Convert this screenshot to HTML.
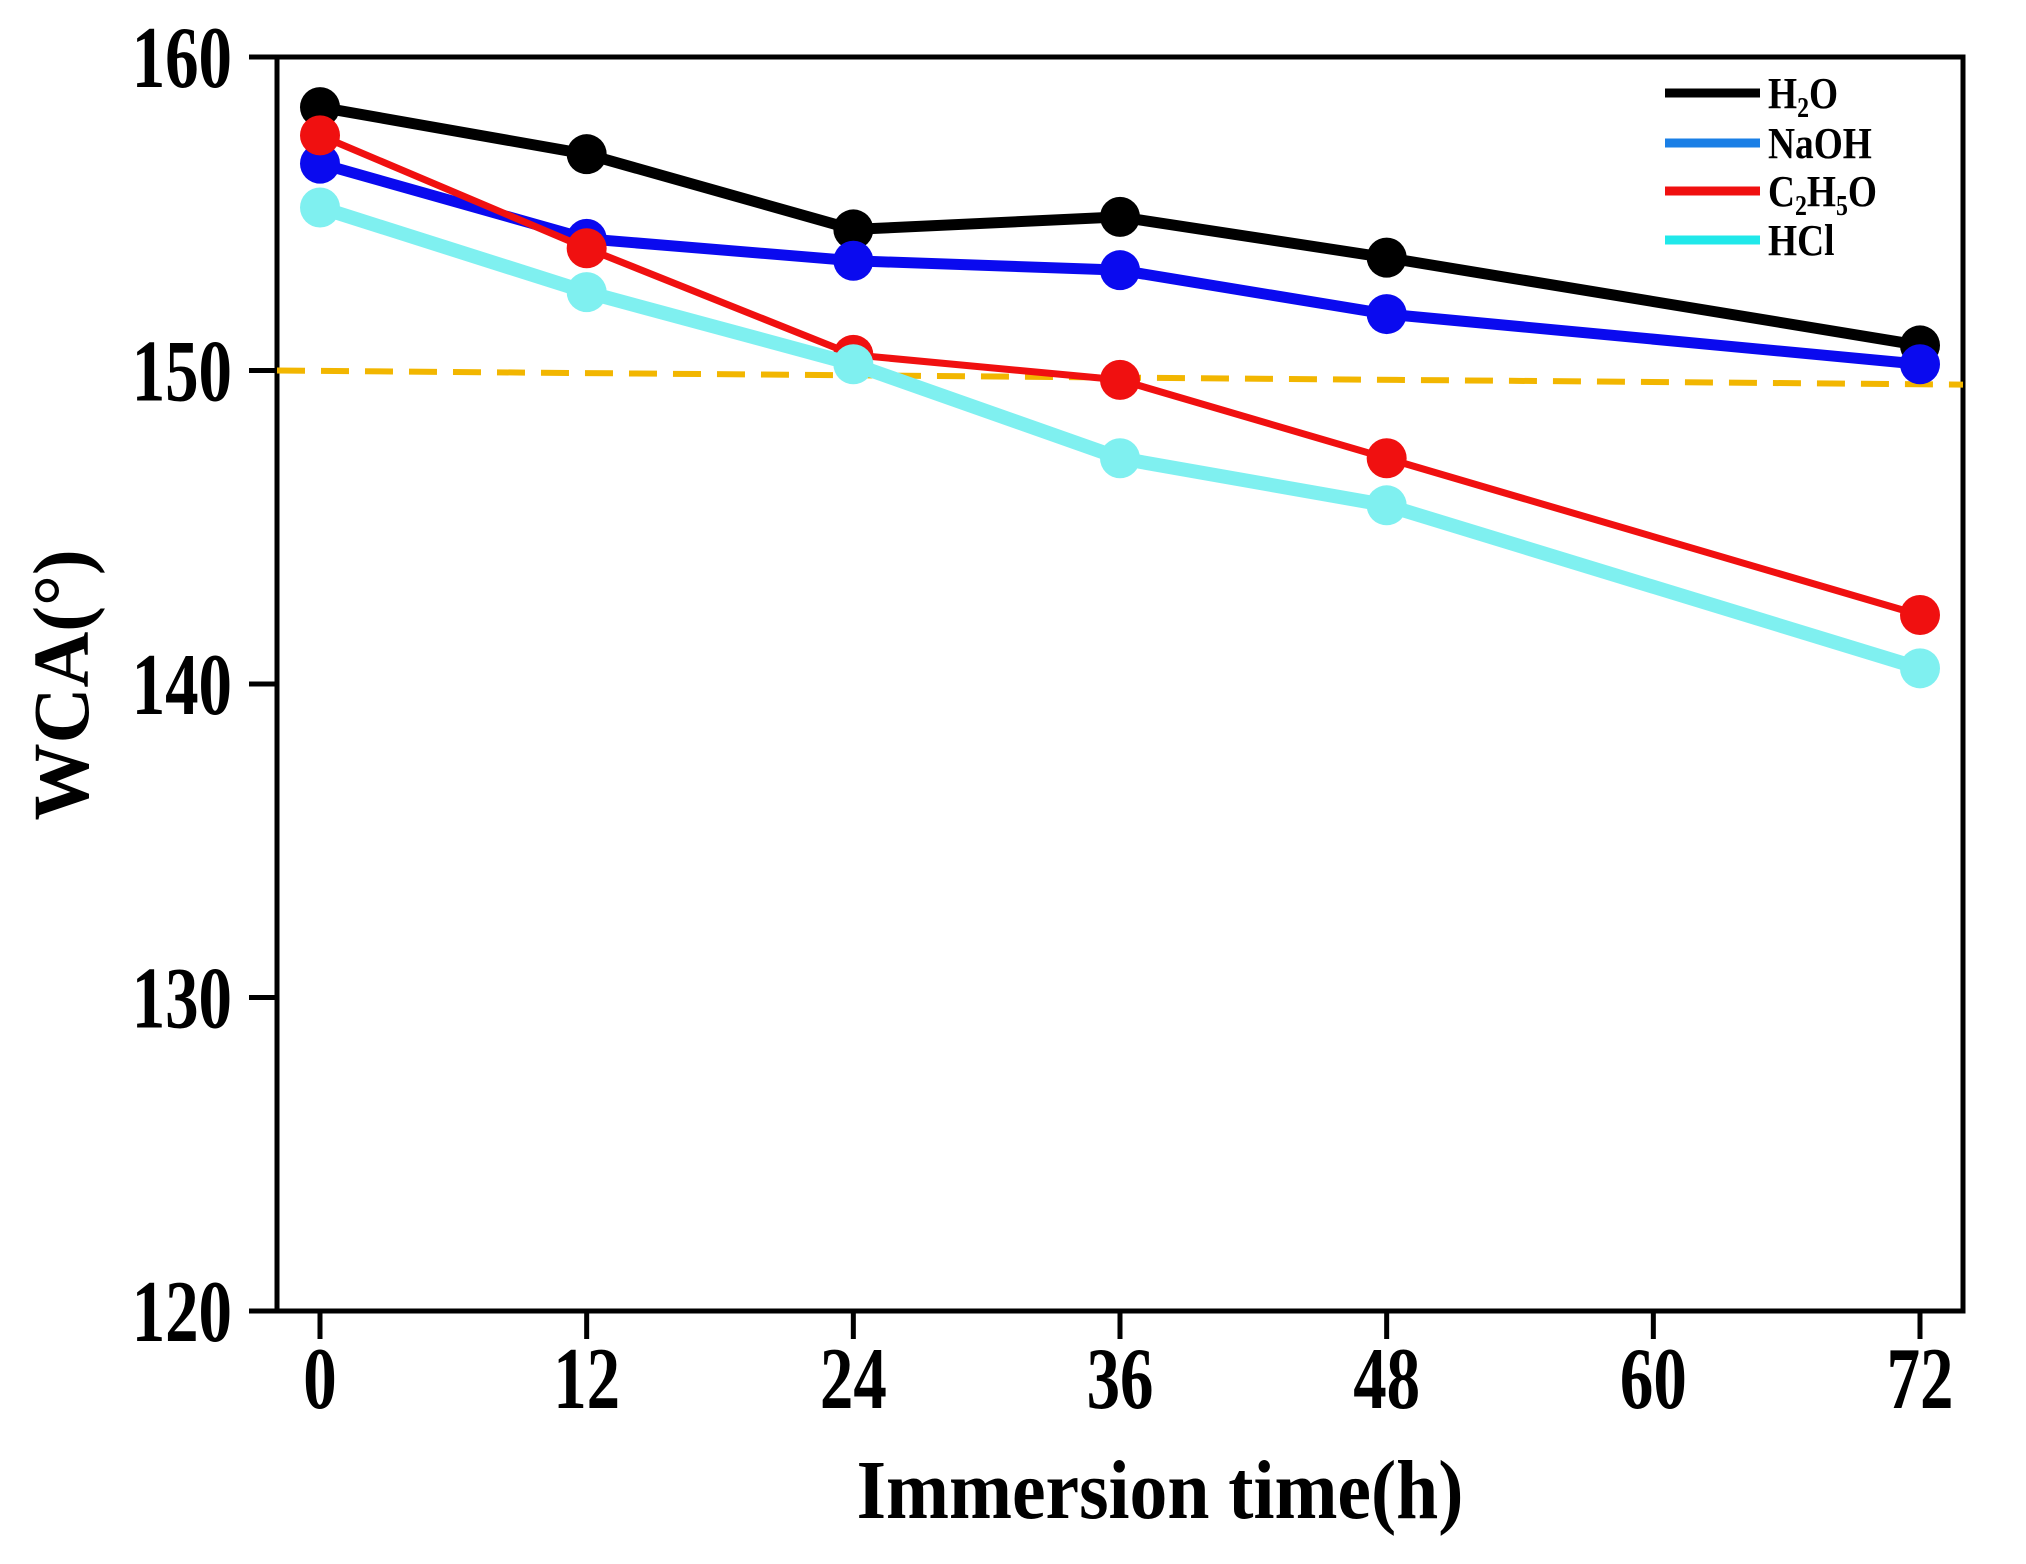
<!DOCTYPE html>
<html><head><meta charset="utf-8"><style>
html,body{margin:0;padding:0;background:#fff;}
svg{display:block;font-family:"Liberation Serif",serif;font-weight:bold;}
</style></head><body>
<svg id="chart" width="2026" height="1564" viewBox="0 0 2026 1564" xmlns="http://www.w3.org/2000/svg">
<g id="plot"></g>
</svg>
<script>
const hours = [0, 12, 24, 36, 48, 72];
const h2o = [158.4, 156.9, 154.5, 154.9, 153.6, 150.8];
const naoh = [156.6, 154.2, 153.5, 153.2, 151.8, 150.2];
const c2h5o = [157.5, 153.9, 150.5, 149.7, 147.2, 142.2];
const hcl = [155.2, 152.5, 150.2, 147.2, 145.7, 140.5];
const xTicks = [0, 12, 24, 36, 48, 60, 72];
const yTicks = [120, 130, 140, 150, 160];
const threshold = [150.0, 149.55];

const NS = "http://www.w3.org/2000/svg";
const L = 277, R = 1963, T = 57, B = 1311;
function xs(v){ return 320 + (v - 0) * (1920 - 320) / 72; }
function ys(v){ return B - (v - 120) * (B - T) / 40; }
const g = document.getElementById('plot');
function el(tag, attrs, parent){
  const e = document.createElementNS(NS, tag);
  for (const k in attrs) e.setAttribute(k, attrs[k]);
  (parent || g).appendChild(e);
  return e;
}
const frame = el('rect', {x:L, y:T, width:R-L, height:B-T, fill:'none', stroke:'#000', 'stroke-width':5});


xTicks.forEach(t => {
  const tk = el('line', {x1:xs(t), x2:xs(t), y1:B, y2:B+28, stroke:'#000', 'stroke-width':5});
  
  
  const lb = el('text', {'text-anchor':'middle', 'font-size':88, transform:'translate(' + xs(t) + ',1408) scale(0.76,1)'});
  lb.textContent = t;
  
  
});
yTicks.forEach(t => {
  const tk = el('line', {x1:L-28, x2:L, y1:ys(t), y2:ys(t), stroke:'#000', 'stroke-width':5});
  
  
  const lb = el('text', {'text-anchor':'end', 'font-size':88, transform:'translate(232,' + (ys(t)+30) + ') scale(0.76,1)'});
  lb.textContent = t;
  
  
});
const th = el('line', {x1:L, x2:R, y1:ys(threshold[0]), y2:ys(threshold[1]), stroke:'#f2b600', 'stroke-width':6, 'stroke-dasharray':'28 16'});


const series = [
  {name:'h2o', vals:h2o, color:'#000000', w:11},
  {name:'naoh', vals:naoh, color:'#0a0aef', w:11},
  {name:'c2h5o', vals:c2h5o, color:'#f01010', w:7},
  {name:'hcl', vals:hcl, color:'#7ff0f0', w:14}
];
series.forEach(s => {
  const pts = s.vals.map((v,i) => xs(hours[i]) + ',' + ys(v)).join(' ');
  const pl = el('polyline', {points:pts, fill:'none', stroke:s.color, 'stroke-width':s.w, 'stroke-linejoin':'round'});
  
  
  s.vals.forEach((v,i) => {
    const c = el('circle', {cx:xs(hours[i]), cy:ys(v), r:20, fill:s.color});
    
    
  });
});
const legendLabels = [['H','2','O'], ['NaOH'], ['C','2','H','5','O'], ['HCl']];
const legendColors = ['#000000', '#1a7fe6', '#f01010', '#20e8ea'];
const legendY = [93, 143, 191, 240];
legendLabels.forEach((parts, i) => {
  const ln = el('line', {x1:1665, x2:1760, y1:legendY[i], y2:legendY[i], stroke:legendColors[i], 'stroke-width':9});
  
  
  const tx = el('text', {'font-size':44, transform:'translate(1768,' + (legendY[i]+15) + ') scale(0.85,1)'});
  
  
  parts.forEach(p => {
    const sp = el('tspan', {}, tx);
    if (/^\d$/.test(p)) { sp.setAttribute('font-size', 28); sp.setAttribute('dy', 9); }
    else if (tx.childNodes.length > 1 && /^\d$/.test(tx.childNodes[tx.childNodes.length-2].textContent)) { sp.setAttribute('dy', -9); }
    sp.textContent = p;
  });
});
const svg = document.getElementById('chart');
const xt = document.createElementNS(NS, 'text');
xt.setAttribute('text-anchor', 'middle'); xt.setAttribute('font-size', 84);
xt.setAttribute('transform', 'translate(1160,1518) scale(0.9,1)');
xt.textContent = 'Immersion time(h)';


svg.appendChild(xt);
const yt = document.createElementNS(NS, 'text');
yt.setAttribute('text-anchor', 'middle'); yt.setAttribute('font-size', 84);
yt.setAttribute('transform', 'translate(88,685) rotate(-90) scale(0.92,0.95)');
yt.textContent = 'WCA(°)';


svg.appendChild(yt);
</script>
</body></html>
